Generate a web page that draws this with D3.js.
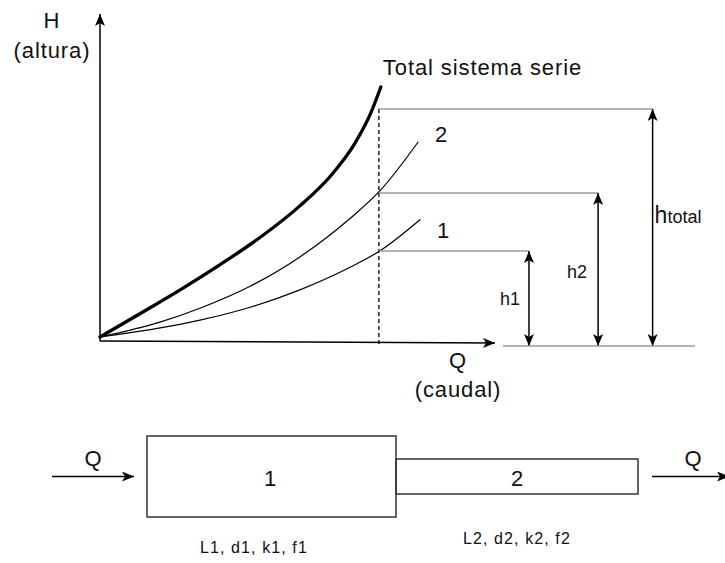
<!DOCTYPE html>
<html>
<head>
<meta charset="utf-8">
<script src="https://cdn.jsdelivr.net/npm/d3@7"></script>
<style>
  html, body { margin: 0; padding: 0; background: #fff; }
  svg { display: block; }
  text { font-family: "Liberation Sans", Arial, sans-serif; fill: #111; }
</style>
</head>
<body>
<svg id="chart" width="725" height="563"></svg>
<script>
// ---------- data (Q = caudal, H = altura, arbitrary units 0..100) ----------
const Q_TOTAL = [0, 10.1, 20.3, 30.4, 40.5, 50.6, 58.2, 64.6, 68.4, 71.1];
const H_TOTAL = [0, 7.2, 14.6, 22.4, 30.8, 40.6, 49.6, 60.1, 68.9, 77.4];
const Q_PIPE2 = [0, 15.2, 25.3, 38.0, 50.6, 63.3, 70.9, 80.5];
const H_PIPE2 = [0, 4.6, 8.9, 15.7, 24.8, 36.7, 45.3, 60.3];
const Q_PIPE1 = [0, 15.2, 25.3, 38.0, 50.6, 63.3, 70.9, 81.0];
const H_PIPE1 = [0, 2.8, 5.2, 9.2, 14.6, 21.6, 26.7, 36.3];
const Q_OPERATION = 70.6;
const LEVEL_NAMES = ["h1", "h2", "htotal"];
const LEVEL_VALUES = [26.6, 44.6, 70.6];
const LEVEL_ARROW_Q = [108.6, 126.1, 139.9];
const CURVE_LABELS = ["Total sistema serie", "2", "1"];
const PIPE_LABELS = ["1", "2"];
const PIPE_PARAMS = ["L1, d1, k1, f1", "L2, d2, k2, f2"];

// ---------- scales ----------
const x = d3.scaleLinear().domain([0, 100]).range([100, 495]);
const y = d3.scaleLinear().domain([0, 100]).range([337, 14]);

const svg = d3.select("#chart");
const defs = svg.append("defs");
function marker(id, color) {
  defs.append("marker")
    .attr("id", id)
    .attr("viewBox", "0 0 12 10")
    .attr("refX", 12).attr("refY", 5)
    .attr("markerWidth", 12).attr("markerHeight", 10)
    .attr("markerUnits", "userSpaceOnUse")
    .attr("orient", "auto-start-reverse")
    .append("path")
    .attr("d", "M0,0 L12,5 L0,10 L3,5 Z")
    .attr("fill", color);
}
marker("arr", "#000");

// ---------- axes ----------
const axisY0 = y(0) + 4;
svg.append("line")
  .attr("x1", x(0)).attr("y1", axisY0)
  .attr("x2", x(0)).attr("y2", y(100))
  .attr("stroke", "#000").attr("stroke-width", 1.5)
  .attr("marker-end", "url(#arr)");
svg.append("line")
  .attr("x1", x(0)).attr("y1", axisY0)
  .attr("x2", x(100)).attr("y2", axisY0 + 2)
  .attr("stroke", "#000").attr("stroke-width", 1.5)
  .attr("marker-end", "url(#arr)");

const big = { size: 22, ls: 0.9 };
function txt(str, px, py, opts = {}) {
  return svg.append("text")
    .attr("x", px).attr("y", py)
    .attr("font-size", opts.size || big.size)
    .attr("letter-spacing", opts.ls !== undefined ? opts.ls : big.ls)
    .attr("text-anchor", opts.anchor || "start")
    .text(str);
}
txt("H", x(0) - 48, 28, { anchor: "middle" });
txt("(altura)", x(0) - 48, 58, { anchor: "middle" });
txt("Q", 458, 368, { anchor: "middle" });
txt("(caudal)", 458, 397, { anchor: "middle" });

// ---------- curves ----------
const line = d3.line().x(d => x(d[0])).y(d => y(d[1])).curve(d3.curveMonotoneX);
const curves = [
  { q: Q_TOTAL, h: H_TOTAL, w: 3.3 },
  { q: Q_PIPE2, h: H_PIPE2, w: 1.2 },
  { q: Q_PIPE1, h: H_PIPE1, w: 1.2 }
];
curves.forEach(c => {
  svg.append("path")
    .datum(d3.zip(c.q, c.h))
    .attr("d", line)
    .attr("fill", "none")
    .attr("stroke", "#000")
    .attr("stroke-width", c.w)
    .attr("stroke-linecap", "round");
});

// curve labels
const lastOf = a => a[a.length - 1];
txt(CURVE_LABELS[0], x(lastOf(Q_TOTAL)) + 2, y(lastOf(H_TOTAL)) - 12);
txt(CURVE_LABELS[1], x(lastOf(Q_PIPE2)) + 17, y(lastOf(H_PIPE2)));
txt(CURVE_LABELS[2], x(lastOf(Q_PIPE1)) + 17, y(lastOf(H_PIPE1)) + 18);

// ---------- operating point: dashed line, level lines and dimension arrows ----------
svg.append("line")
  .attr("x1", x(Q_OPERATION)).attr("x2", x(Q_OPERATION))
  .attr("y1", y(d3.max(LEVEL_VALUES))).attr("y2", y(0) + 10)
  .attr("stroke", "#000").attr("stroke-width", 1.3)
  .attr("stroke-dasharray", "4,3");

const baseY = y(0) + 9;
LEVEL_VALUES.forEach((v, i) => {
  svg.append("line")
    .attr("x1", x(Q_OPERATION)).attr("x2", x(LEVEL_ARROW_Q[i]))
    .attr("y1", y(v)).attr("y2", y(v))
    .attr("stroke", "#9a9a9a").attr("stroke-width", 1.5);
  svg.append("line")
    .attr("x1", x(LEVEL_ARROW_Q[i])).attr("x2", x(LEVEL_ARROW_Q[i]))
    .attr("y1", baseY).attr("y2", y(v))
    .attr("stroke", "#000").attr("stroke-width", 1.5)
    .attr("marker-start", "url(#arr)")
    .attr("marker-end", "url(#arr)");
});
svg.append("line")
  .attr("x1", 503).attr("x2", 695)
  .attr("y1", baseY).attr("y2", baseY)
  .attr("stroke", "#9a9a9a").attr("stroke-width", 1.5);

// level labels
txt(LEVEL_NAMES[0], x(LEVEL_ARROW_Q[0]) - 29, 305, { size: 18, ls: 0 });
txt(LEVEL_NAMES[1], x(LEVEL_ARROW_Q[1]) - 31, 278, { size: 18, ls: 0 });
const ht = svg.append("text")
  .attr("x", x(LEVEL_ARROW_Q[2]) + 2).attr("y", 223);
ht.append("tspan").attr("font-size", 23).text(LEVEL_NAMES[2].slice(0, 1));
ht.append("tspan").attr("font-size", 18).text(LEVEL_NAMES[2].slice(1));

// ---------- pipe system diagram ----------
const pipeY = 476.5;
const pipes = [
  { x0: 147, x1: 396, h: 81, dx: -1.5 },
  { x0: 396, x1: 638, h: 35, dx: 0 }
];
pipes.forEach((p, i) => {
  svg.append("rect")
    .attr("x", p.x0).attr("y", pipeY - p.h / 2)
    .attr("width", p.x1 - p.x0).attr("height", p.h)
    .attr("fill", "none").attr("stroke", "#333").attr("stroke-width", 1.5);
  txt(PIPE_LABELS[i], (p.x0 + p.x1) / 2 + p.dx, 486, { anchor: "middle", ls: 0 });
});
// flow arrows
svg.append("line")
  .attr("x1", 52).attr("x2", 134).attr("y1", pipeY).attr("y2", pipeY)
  .attr("stroke", "#000").attr("stroke-width", 1.5)
  .attr("marker-end", "url(#arr)");
svg.append("line")
  .attr("x1", 652).attr("x2", 729).attr("y1", pipeY).attr("y2", pipeY)
  .attr("stroke", "#000").attr("stroke-width", 1.5)
  .attr("marker-end", "url(#arr)");
txt("Q", 93, 466, { anchor: "middle", ls: 0 });
txt("Q", 693, 466, { anchor: "middle", ls: 0 });

txt(PIPE_PARAMS[0], 200, 553, { size: 16, ls: 1.1 });
txt(PIPE_PARAMS[1], 463, 544, { size: 16, ls: 1.1 });
</script>
</body>
</html>
